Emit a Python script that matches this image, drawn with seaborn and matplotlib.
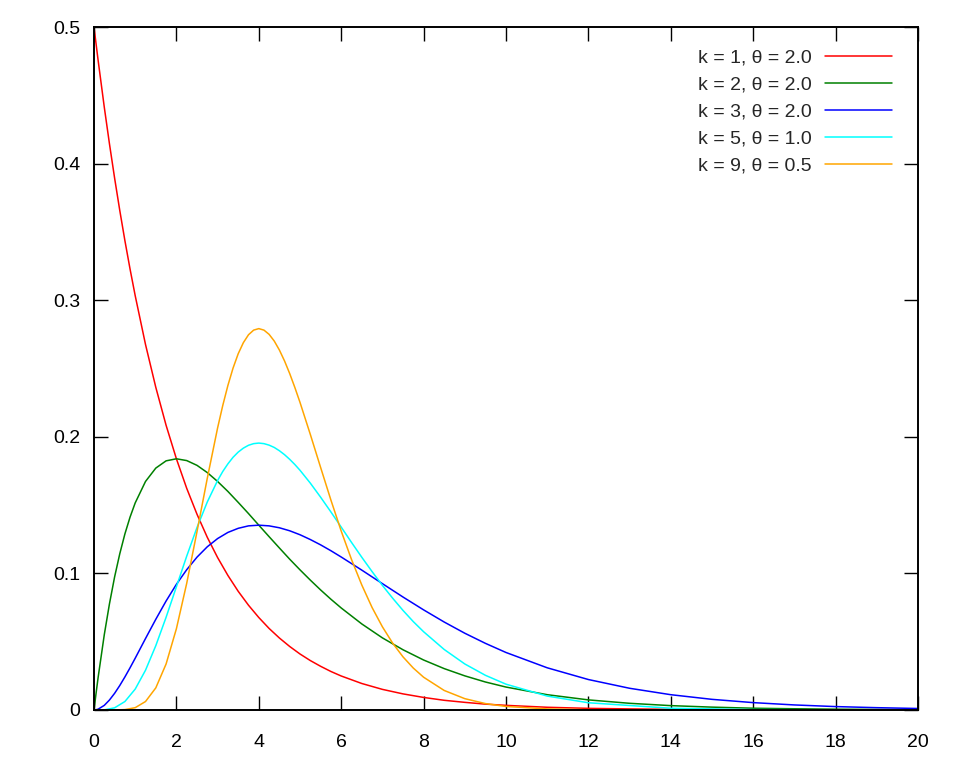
import matplotlib
matplotlib.use("Agg")
import matplotlib.pyplot as plt
import pandas as pd
import seaborn as sns


# x positions read for the three broad curves (k = 1, 2, 3)
X_BROAD = [0, 0.05, 0.1, 0.25, 0.375, 0.5, 0.625, 0.75, 0.875,
           1, 1.25, 1.5, 1.75, 2, 2.25, 2.5, 2.75, 3, 3.25, 3.5, 3.75,
           4, 4.25, 4.5, 4.75, 5, 5.25, 5.5, 5.75, 6,
           6.5, 7, 7.5, 8, 8.5, 9, 9.5, 10,
           11, 12, 13, 14, 15, 16, 17, 18, 19, 20]

# x positions read for the two peaked curves (k = 5, 9), denser near the peak
X_PEAKED = [0, 0.25, 0.5, 0.75, 1, 1.25, 1.5, 1.75, 2, 2.25, 2.5, 2.75, 3,
            3.125, 3.25, 3.375, 3.5, 3.625, 3.75, 3.875, 4,
            4.125, 4.25, 4.375, 4.5, 4.625, 4.75, 4.875, 5,
            5.25, 5.5, 5.75, 6, 6.25, 6.5, 6.75, 7, 7.25, 7.5, 7.75, 8,
            8.5, 9, 9.5, 10, 11, 12, 14, 16, 18, 20]

K1_T2 = [0.5000, 0.4877, 0.4756, 0.4412, 0.4145, 0.3894, 0.3658, 0.3436, 0.3228,
         0.3033, 0.2676, 0.2362, 0.2084, 0.1839, 0.1623, 0.1433, 0.1264, 0.1116,
         0.0985, 0.0869, 0.0767, 0.0677, 0.0597, 0.0527, 0.0465, 0.0410, 0.0362,
         0.0320, 0.0282, 0.0249, 0.0194, 0.0151, 0.0118, 0.0092, 0.0071, 0.0056,
         0.0043, 0.0034, 0.0020, 0.0012, 0.0008, 0.0005, 0.0003, 0.0002, 0.0001,
         0.0001, 0.0000, 0.0000]
K2_T2 = [0.0000, 0.0122, 0.0238, 0.0552, 0.0777, 0.0974, 0.1143, 0.1289, 0.1412,
         0.1516, 0.1673, 0.1771, 0.1824, 0.1839, 0.1826, 0.1791, 0.1738, 0.1673,
         0.1600, 0.1520, 0.1438, 0.1353, 0.1269, 0.1186, 0.1104, 0.1026, 0.0951,
         0.0879, 0.0811, 0.0747, 0.0630, 0.0528, 0.0441, 0.0366, 0.0303, 0.0250,
         0.0205, 0.0168, 0.0112, 0.0074, 0.0049, 0.0032, 0.0021, 0.0013, 0.0009,
         0.0006, 0.0004, 0.0002]
K3_T2 = [0.0000, 0.0002, 0.0006, 0.0034, 0.0073, 0.0122, 0.0179, 0.0242, 0.0309,
         0.0379, 0.0523, 0.0664, 0.0798, 0.0920, 0.1027, 0.1119, 0.1195, 0.1255,
         0.1300, 0.1330, 0.1348, 0.1353, 0.1348, 0.1334, 0.1312, 0.1283, 0.1248,
         0.1209, 0.1166, 0.1120, 0.1024, 0.0925, 0.0827, 0.0733, 0.0644, 0.0562,
         0.0488, 0.0421, 0.0309, 0.0223, 0.0159, 0.0112, 0.0078, 0.0054, 0.0037,
         0.0025, 0.0017, 0.0011]
K5_T1 = [0.0000, 0.0001, 0.0016, 0.0062, 0.0153, 0.0291, 0.0471, 0.0679, 0.0902,
         0.1126, 0.1336, 0.1523, 0.1680, 0.1746, 0.1802, 0.1850, 0.1888, 0.1917,
         0.1938, 0.1950, 0.1954, 0.1950, 0.1939, 0.1922, 0.1898, 0.1869, 0.1835,
         0.1797, 0.1755, 0.1661, 0.1558, 0.1450, 0.1339, 0.1227, 0.1118, 0.1013,
         0.0912, 0.0818, 0.0729, 0.0647, 0.0573, 0.0443, 0.0337, 0.0254, 0.0189,
         0.0102, 0.0053, 0.0013, 0.0003, 0.0001, 0.0000]
K9_T05 = [0.0000, 0.0000, 0.0000, 0.0003, 0.0017, 0.0062, 0.0162, 0.0337, 0.0595,
          0.0927, 0.1306, 0.1697, 0.2065, 0.2229, 0.2376, 0.2503, 0.2608, 0.2689,
          0.2747, 0.2781, 0.2792, 0.2781, 0.2750, 0.2701, 0.2635, 0.2555, 0.2463,
          0.2361, 0.2252, 0.2018, 0.1776, 0.1537, 0.1310, 0.1102, 0.0915, 0.0750,
          0.0609, 0.0489, 0.0389, 0.0307, 0.0240, 0.0143, 0.0083, 0.0047, 0.0026,
          0.0008, 0.0002, 0.0000, 0.0000, 0.0000, 0.0000]

LABELS = ["k = 1, θ = 2.0", "k = 2, θ = 2.0", "k = 3, θ = 2.0",
          "k = 5, θ = 1.0", "k = 9, θ = 0.5"]
COLORS = ["#ff0000", "#008000", "#0000ff", "#00ffff", "#ffa500"]

X_TICKS = [0, 2, 4, 6, 8, 10, 12, 14, 16, 18, 20]
Y_TICKS = [0, 0.1, 0.2, 0.3, 0.4, 0.5]
Y_TICK_LABELS = ["0", "0.1", "0.2", "0.3", "0.4", "0.5"]


def build_frame() -> pd.DataFrame:
    series = [
        (X_BROAD, K1_T2),
        (X_BROAD, K2_T2),
        (X_BROAD, K3_T2),
        (X_PEAKED, K5_T1),
        (X_PEAKED, K9_T05),
    ]
    frames = []
    for label, (xs, ys) in zip(LABELS, series):
        frames.append(pd.DataFrame({"x": xs, "y": ys, "curve": label}))
    return pd.concat(frames, ignore_index=True)


def main() -> None:
    sns.set_theme(style="white")
    plt.rcParams["font.family"] = ["Liberation Sans", "DejaVu Sans"]

    df = build_frame()

    fig = plt.figure(figsize=(9.6, 7.68), dpi=100)
    ax = fig.add_axes([94 / 960, 58 / 768, 824 / 960, 683 / 768])

    sns.lineplot(data=df, x="x", y="y", hue="curve", hue_order=LABELS,
                 palette=dict(zip(LABELS, COLORS)), linewidth=1.1,
                 sort=False, ax=ax)

    ax.set_xlim(0, 20)
    ax.set_ylim(0, 0.5)
    ax.set_xticks(X_TICKS)
    ax.set_xticklabels([str(t) for t in X_TICKS])
    ax.set_yticks(Y_TICKS)
    ax.set_yticklabels(Y_TICK_LABELS)
    ax.set_xlabel("")
    ax.set_ylabel("")

    for spine in ax.spines.values():
        spine.set_visible(True)
        spine.set_color("black")
        spine.set_linewidth(1.4)

    ax.tick_params(axis="both", which="major", direction="in", length=10,
                   width=1, color="black", labelsize=14, labelcolor="black",
                   top=True, right=True, bottom=True, left=True)
    ax.tick_params(axis="x", pad=17)
    ax.tick_params(axis="y", pad=10)

    handles, labels = ax.get_legend_handles_labels()
    ax.legend(handles, labels, loc="upper right",
              bbox_to_anchor=(0.9684, 0.9678), frameon=False,
              markerfirst=False, fontsize=14, handlelength=3.45,
              handletextpad=0.67, labelspacing=0.48, borderpad=0,
              borderaxespad=0)

    fig.savefig("out.png", dpi=100)
    plt.close(fig)


if __name__ == "__main__":
    main()
